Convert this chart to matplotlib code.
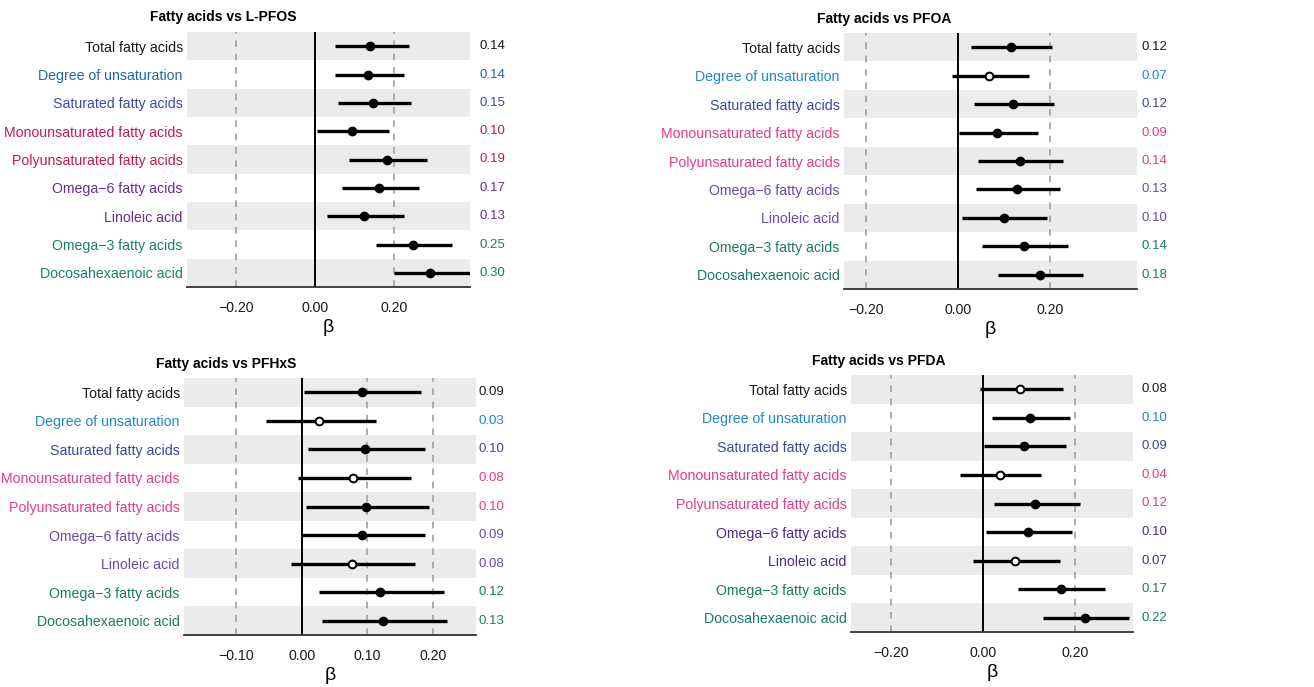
import matplotlib
matplotlib.use("Agg")
import matplotlib.pyplot as plt
import matplotlib.transforms as mtransforms
from matplotlib.ticker import FuncFormatter

plt.rcParams['font.family'] = ['Liberation Sans', 'DejaVu Sans']

W, H = 1314, 687

acids = ["Total fatty acids", "Degree of unsaturation", "Saturated fatty acids",
         "Monounsaturated fatty acids", "Polyunsaturated fatty acids", "Omega\u22126 fatty acids",
         "Linoleic acid", "Omega\u22123 fatty acids", "Docosahexaenoic acid"]

titles = ["Fatty acids vs L-PFOS", "Fatty acids vs PFOA", "Fatty acids vs PFHxS", "Fatty acids vs PFDA"]

# point estimates and 95% CI
est_pfos = [0.140, 0.134, 0.147, 0.093, 0.182, 0.161, 0.124, 0.247, 0.292]
lo_pfos = [0.050, 0.050, 0.058, 0.006, 0.087, 0.068, 0.030, 0.154, 0.200]
hi_pfos = [0.237, 0.224, 0.243, 0.186, 0.282, 0.262, 0.224, 0.347, 0.400]
lab_pfos = ["0.14", "0.14", "0.15", "0.10", "0.19", "0.17", "0.13", "0.25", "0.30"]

est_pfoa = [0.116, 0.067, 0.120, 0.086, 0.135, 0.128, 0.100, 0.143, 0.178]
lo_pfoa = [0.029, -0.013, 0.036, 0.003, 0.044, 0.039, 0.010, 0.052, 0.087]
hi_pfoa = [0.206, 0.154, 0.210, 0.174, 0.229, 0.223, 0.195, 0.239, 0.272]
lab_pfoa = ["0.12", "0.07", "0.12", "0.09", "0.14", "0.13", "0.10", "0.14", "0.18"]

est_pfhxs = [0.091, 0.027, 0.096, 0.078, 0.098, 0.092, 0.076, 0.119, 0.124]
lo_pfhxs = [0.004, -0.055, 0.010, -0.006, 0.006, 0.001, -0.016, 0.027, 0.031]
hi_pfhxs = [0.182, 0.113, 0.187, 0.166, 0.193, 0.188, 0.172, 0.216, 0.221]
lab_pfhxs = ["0.09", "0.03", "0.10", "0.08", "0.10", "0.09", "0.08", "0.12", "0.13"]

est_pfda = [0.080, 0.101, 0.087, 0.036, 0.113, 0.097, 0.068, 0.168, 0.221]
lo_pfda = [-0.008, 0.018, 0.001, -0.050, 0.022, 0.005, -0.022, 0.076, 0.130]
hi_pfda = [0.172, 0.188, 0.179, 0.125, 0.210, 0.193, 0.166, 0.264, 0.317]
lab_pfda = ["0.08", "0.10", "0.09", "0.04", "0.12", "0.10", "0.07", "0.17", "0.22"]

cols_pfos = ['#1a1a1a', '#1f68a8', '#3d4aa0', '#c2185b', '#c2185b', '#6a2c8f', '#6a2c8f', '#17806d', '#17806d']
cols_mid = ['#1a1a1a', '#1e88d0', '#3c46a0', '#e23c8c', '#e23c8c', '#6b4aa5', '#6b4aa5', '#1a7a66', '#1a7a66']
cols_pfda = ['#1a1a1a', '#1e88d0', '#3c46a0', '#e23c8c', '#e23c8c', '#4b2a8a', '#4b2a8a', '#1a7a66', '#1a7a66']

panels = [
    dict(est=est_pfos, lo=lo_pfos, hi=hi_pfos, lab=lab_pfos, cols=cols_pfos,
         box=(187, 32, 470, 287), xlim=(-0.324, 0.392), ticks=[-0.2, 0.0, 0.2],
         title_xy=(223, 17), val_x=505),
    dict(est=est_pfoa, lo=lo_pfoa, hi=hi_pfoa, lab=lab_pfoa, cols=cols_mid,
         box=(844, 33, 1137, 289), xlim=(-0.248, 0.39), ticks=[-0.2, 0.0, 0.2],
         title_xy=(884, 19), val_x=1167),
    dict(est=est_pfhxs, lo=lo_pfhxs, hi=hi_pfhxs, lab=lab_pfhxs, cols=cols_mid,
         box=(184, 378, 476, 635), xlim=(-0.179, 0.265), ticks=[-0.1, 0.0, 0.1, 0.2],
         title_xy=(226, 364), val_x=504),
    dict(est=est_pfda, lo=lo_pfda, hi=hi_pfda, lab=lab_pfda, cols=cols_pfda,
         box=(851, 375, 1133, 632), xlim=(-0.288, 0.325), ticks=[-0.2, 0.0, 0.2],
         title_xy=(879, 361), val_x=1167),
]

fig = plt.figure(figsize=(W / 100, H / 100), dpi=100)
minus_fmt = FuncFormatter(lambda v, p: ("%.2f" % v).replace("-", "\u2212"))

for p, title in zip(panels, titles):
    x0, y0, x1, y1 = p['box']
    ax = fig.add_axes([x0 / W, 1 - y1 / H, (x1 - x0) / W, (y1 - y0) / H])
    n = len(acids)
    ys = [n - i for i in range(n)]
    ax.set_ylim(0.5, n + 0.5)
    ax.set_xlim(*p['xlim'])

    for i, y in enumerate(ys):
        if i % 2 == 0:
            ax.axhspan(y - 0.5, y + 0.5, color='#ebebeb', lw=0, zorder=0)

    for t in p['ticks']:
        if t == 0:
            ax.axvline(0, color='black', lw=1.4, zorder=2)
        else:
            ax.axvline(t, color='#a0a0a0', lw=1.2, ls=(0, (4, 4)), zorder=1)

    for y, e, l, h in zip(ys, p['est'], p['lo'], p['hi']):
        ax.plot([l, h], [y, y], color='black', lw=2.4, solid_capstyle='butt', zorder=3)
        filled = l > 0
        ax.plot([e], [y], 'o', ms=5.6, mec='black', mew=1.4,
                mfc='black' if filled else 'white', zorder=4)

    ax.set_yticks(ys)
    ax.set_yticklabels(acids, fontsize=10.2)
    for tl, c in zip(ax.get_yticklabels(), p['cols']):
        tl.set_color(c)
    ax.tick_params(axis='y', length=0, pad=3)

    ax.set_xticks(p['ticks'])
    ax.xaxis.set_major_formatter(minus_fmt)
    ax.tick_params(axis='x', length=0, pad=10, labelsize=10.2, labelcolor='#1a1a1a')
    ax.set_xlabel("\u03b2", fontsize=14, labelpad=3)

    for s in ['top', 'right', 'left']:
        ax.spines[s].set_visible(False)
    ax.spines['bottom'].set_color('#333333')
    ax.spines['bottom'].set_linewidth(1.3)

    tr = mtransforms.blended_transform_factory(fig.transFigure, ax.transData)
    for y, txt, c in zip(ys, p['lab'], p['cols']):
        ax.text(p['val_x'] / W, y, txt, transform=tr, ha='right', va='center',
                fontsize=9.5, color=c, clip_on=False)

    tx, ty = p['title_xy']
    fig.text(tx / W, 1 - ty / H, title, ha='center', va='center',
             fontsize=10, fontweight='bold')

fig.savefig("out.png", dpi=100)
